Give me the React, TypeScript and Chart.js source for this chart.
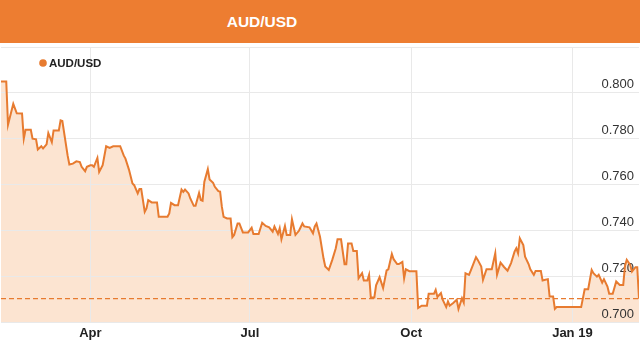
import { useEffect, useRef } from "react";
import { Chart, registerables } from "chart.js";

Chart.register(...registerables);

const seriesLabel = "AUD/USD";

const dates = [
  "2018-02-09", "2018-02-12", "2018-02-13", "2018-02-16", "2018-02-18", "2018-02-21", "2018-02-22", "2018-02-23",
  "2018-02-26", "2018-02-27", "2018-03-01", "2018-03-02", "2018-03-04", "2018-03-05", "2018-03-07", "2018-03-08",
  "2018-03-10", "2018-03-11", "2018-03-14", "2018-03-15", "2018-03-16", "2018-03-19", "2018-03-20", "2018-03-22",
  "2018-03-24", "2018-03-26", "2018-03-27", "2018-03-29", "2018-03-30", "2018-04-01", "2018-04-02", "2018-04-03",
  "2018-04-05", "2018-04-06", "2018-04-08", "2018-04-10", "2018-04-12", "2018-04-14", "2018-04-18", "2018-04-20",
  "2018-04-21", "2018-04-23", "2018-04-25", "2018-04-26", "2018-04-28", "2018-04-29", "2018-04-30", "2018-05-02",
  "2018-05-03", "2018-05-04", "2018-05-06", "2018-05-09", "2018-05-10", "2018-05-15", "2018-05-16", "2018-05-17",
  "2018-05-19", "2018-05-21", "2018-05-23", "2018-05-24", "2018-05-25", "2018-05-27", "2018-05-28", "2018-05-30",
  "2018-05-31", "2018-06-02", "2018-06-03", "2018-06-04", "2018-06-05", "2018-06-07", "2018-06-08", "2018-06-10",
  "2018-06-11", "2018-06-13", "2018-06-14", "2018-06-15", "2018-06-16", "2018-06-18", "2018-06-20", "2018-06-21",
  "2018-06-22", "2018-06-24", "2018-06-25", "2018-06-27", "2018-06-30", "2018-07-02", "2018-07-03", "2018-07-06",
  "2018-07-08", "2018-07-10", "2018-07-12", "2018-07-14", "2018-07-15", "2018-07-17", "2018-07-18", "2018-07-19",
  "2018-07-21", "2018-07-22", "2018-07-24", "2018-07-25", "2018-07-27", "2018-07-29", "2018-07-31", "2018-08-01",
  "2018-08-04", "2018-08-06", "2018-08-07", "2018-08-08", "2018-08-10", "2018-08-12", "2018-08-13", "2018-08-15",
  "2018-08-17", "2018-08-19", "2018-08-20", "2018-08-22", "2018-08-24", "2018-08-25", "2018-08-26", "2018-08-28",
  "2018-08-29", "2018-08-31", "2018-09-01", "2018-09-03", "2018-09-04", "2018-09-06", "2018-09-07", "2018-09-08",
  "2018-09-10", "2018-09-11", "2018-09-13", "2018-09-15", "2018-09-17", "2018-09-18", "2018-09-20", "2018-09-21",
  "2018-09-23", "2018-09-24", "2018-09-26", "2018-09-27", "2018-09-28", "2018-09-30", "2018-10-04", "2018-10-05",
  "2018-10-07", "2018-10-10", "2018-10-11", "2018-10-14", "2018-10-15", "2018-10-16", "2018-10-18", "2018-10-19",
  "2018-10-21", "2018-10-22", "2018-10-23", "2018-10-25", "2018-10-27", "2018-10-28", "2018-10-30", "2018-10-31",
  "2018-11-01", "2018-11-03", "2018-11-04", "2018-11-07", "2018-11-08", "2018-11-10", "2018-11-11", "2018-11-13",
  "2018-11-16", "2018-11-18", "2018-11-19", "2018-11-21", "2018-11-23", "2018-11-25", "2018-11-27", "2018-11-29",
  "2018-11-30", "2018-12-01", "2018-12-02", "2018-12-04", "2018-12-05", "2018-12-07", "2018-12-08", "2018-12-10",
  "2018-12-11", "2018-12-14", "2018-12-15", "2018-12-16", "2018-12-18", "2018-12-19", "2018-12-21", "2018-12-22",
  "2018-12-23", "2019-01-06", "2019-01-08", "2019-01-10", "2019-01-12", "2019-01-13", "2019-01-15", "2019-01-16",
  "2019-01-18", "2019-01-19", "2019-01-21", "2019-01-22", "2019-01-24", "2019-01-26", "2019-01-28", "2019-01-30",
  "2019-01-31", "2019-02-01", "2019-02-03", "2019-02-04", "2019-02-06", "2019-02-07", "2019-02-08",
];

const rates = [
  0.8049, 0.8049, 0.7861, 0.7952, 0.7911, 0.791, 0.78, 0.7839,
  0.7839, 0.78, 0.7797, 0.7753, 0.7767, 0.7757, 0.7775, 0.7824,
  0.7785, 0.7836, 0.7836, 0.788, 0.7877, 0.7727, 0.7687, 0.7691,
  0.7701, 0.7698, 0.7677, 0.7658, 0.7677, 0.7684, 0.7684, 0.7677,
  0.7716, 0.7655, 0.7684, 0.7767, 0.776, 0.7767, 0.7767, 0.7727,
  0.7713, 0.7665, 0.7604, 0.7597, 0.7561, 0.758, 0.758, 0.7481,
  0.7496, 0.7532, 0.7522, 0.7522, 0.7459, 0.7459, 0.7474, 0.752,
  0.751, 0.751, 0.7578, 0.7568, 0.7578, 0.7561, 0.7539, 0.7507,
  0.7507, 0.7563, 0.7532, 0.7529, 0.7611, 0.7667, 0.7622, 0.7607,
  0.759, 0.7571, 0.7569, 0.7503, 0.7459, 0.7452, 0.7452, 0.737,
  0.738, 0.743, 0.743, 0.7391, 0.7391, 0.7411, 0.7384, 0.7384,
  0.7433, 0.7419, 0.7413, 0.7394, 0.7417, 0.7384, 0.7409, 0.7361,
  0.7419, 0.738, 0.738, 0.7448, 0.738, 0.7398, 0.743, 0.7417,
  0.7413, 0.7387, 0.7417, 0.743, 0.7372, 0.7278, 0.7242, 0.7227,
  0.7271, 0.7322, 0.7361, 0.7361, 0.7252, 0.7252, 0.7343, 0.7343,
  0.731, 0.731, 0.7191, 0.7213, 0.7181, 0.7181, 0.7206, 0.7107,
  0.7107, 0.716, 0.7196, 0.7148, 0.7225, 0.723, 0.7297, 0.7274,
  0.7253, 0.7253, 0.7262, 0.7191, 0.723, 0.7222, 0.7222, 0.7061,
  0.7071, 0.7071, 0.7123, 0.7123, 0.714, 0.7109, 0.7126, 0.7097,
  0.7065, 0.709, 0.7071, 0.7083, 0.7097, 0.7057, 0.7104, 0.7085,
  0.7213, 0.7206, 0.7224, 0.7283, 0.7271, 0.7242, 0.7184, 0.723,
  0.723, 0.73, 0.7206, 0.7259, 0.724, 0.7224, 0.7257, 0.7307,
  0.7322, 0.73, 0.7365, 0.7336, 0.7285, 0.7253, 0.723, 0.7206,
  0.7223, 0.7223, 0.7181, 0.7183, 0.7187, 0.7111, 0.7111, 0.7057,
  0.7065, 0.7065, 0.7143, 0.7143, 0.7227, 0.7213, 0.7198, 0.7206,
  0.7172, 0.7187, 0.7155, 0.7123, 0.7123, 0.7177, 0.7162, 0.7162,
  0.7245, 0.7271, 0.7249, 0.722, 0.7239, 0.7239, 0.7102,
];

const tickDates = ["2018-04-01", "2018-07-01", "2018-10-01", "2019-01-01"];
const tickLabels = ["Apr", "Jul", "Oct", "Jan 19"];

const rateMin = 0.7;
const rateMax = 0.82;
const rateStep = 0.02;

const ORANGE = "#ED7D31";
const LINE = "#E77B30";
const FILL = "#FCE4D1";
const GRID = "#E9E9E9";
const FONT = '"Liberation Sans", Arial, Helvetica, sans-serif';

const DAY_MS = 86400000;
const dayNumber = (iso: string) => {
  const [y, m, d] = iso.split("-").map(Number);
  return Date.UTC(y, m - 1, d) / DAY_MS;
};

// Series name with a round marker, drawn inside the plot area's top-left corner
const legendPlugin = {
  id: "inlineLegend",
  afterDraw(chart: any) {
    const { ctx, chartArea } = chart;
    const label = chart.data.datasets[0].label;
    const cx = chartArea.left + 42;
    const cy = chartArea.top + 16;
    ctx.save();
    ctx.fillStyle = LINE;
    ctx.beginPath();
    ctx.arc(cx, cy, 3.8, 0, Math.PI * 2);
    ctx.fill();
    ctx.font = `bold 11.5px ${FONT}`;
    ctx.fillStyle = "#222";
    ctx.textBaseline = "middle";
    ctx.textAlign = "left";
    ctx.fillText(label, cx + 6, cy + 0.5);
    ctx.restore();
  },
};

function RateChart() {
  const canvasRef = useRef<HTMLCanvasElement | null>(null);

  useEffect(() => {
    const canvas = canvasRef.current;
    if (!canvas) return;

    const origin = dayNumber(dates[0]);
    const points = dates.map((d, i) => ({ x: dayNumber(d) - origin, y: rates[i] }));
    const lastX = points[points.length - 1].x;
    const lastRate = rates[rates.length - 1];
    const tickDays = tickDates.map((d) => dayNumber(d) - origin);

    const chart = new Chart(canvas, {
      type: "line",
      data: {
        datasets: [
          {
            label: seriesLabel,
            data: points,
            borderColor: LINE,
            borderWidth: 2,
            backgroundColor: FILL,
            fill: "start",
            pointRadius: 0,
            tension: 0,
          },
          {
            label: "last",
            data: [
              { x: 0, y: lastRate },
              { x: lastX, y: lastRate },
            ],
            borderColor: LINE,
            borderWidth: 1.3,
            borderDash: [5, 3],
            fill: false,
            pointRadius: 0,
          },
        ],
      },
      options: {
        responsive: false,
        animation: false,
        layout: { padding: { top: 4, left: 1, right: 1, bottom: 0 } },
        plugins: {
          legend: { display: false },
          tooltip: { enabled: false },
          filler: { drawTime: "beforeDraw" },
        },
        scales: {
          x: {
            type: "linear",
            min: 0,
            max: lastX,
            border: { display: false },
            grid: { color: GRID, drawTicks: false },
            afterBuildTicks: (scale: any) => {
              scale.ticks = tickDays.map((value) => ({ value }));
            },
            afterFit: (scale: any) => {
              scale.paddingLeft = 0;
              scale.paddingRight = 0;
              scale.height = 19;
            },
            ticks: {
              autoSkip: false,
              maxRotation: 0,
              padding: 4,
              color: "#222",
              font: { family: FONT, size: 13, weight: "bold" },
              callback: (_v: any, i: number) => tickLabels[i],
            },
          },
          y: {
            position: "right",
            min: rateMin,
            max: rateMax,
            border: { display: false },
            grid: { color: GRID, drawTicks: false },
            afterFit: (scale: any) => {
              scale.width = 0;
              scale.paddingTop = 0;
              scale.paddingBottom = 0;
            },
            ticks: {
              stepSize: rateStep,
              mirror: true,
              padding: -5,
              labelOffset: -8,
              color: "#333",
              font: { family: FONT, size: 13 },
              callback: (v: any) => (Number(v) >= rateMax - 1e-6 ? "" : Number(v).toFixed(3)),
            },
          },
        },
      },
      plugins: [legendPlugin],
    } as any);

    return () => chart.destroy();
  }, []);

  return <canvas ref={canvasRef} width={640} height={298} style={{ display: "block" }} />;
}

export default function App() {
  return (
    <div style={{ position: "absolute", left: 0, top: 0, width: 640, height: 341, background: "#fff" }}>
      <div
        style={{
          height: 43,
          background: ORANGE,
          color: "#fff",
          font: `bold 15.5px ${FONT}`,
          lineHeight: "43px",
          textAlign: "center",
          paddingRight: 116,
          boxSizing: "border-box",
        }}
      >
        AUD/USD
      </div>
      <RateChart />
    </div>
  );
}
